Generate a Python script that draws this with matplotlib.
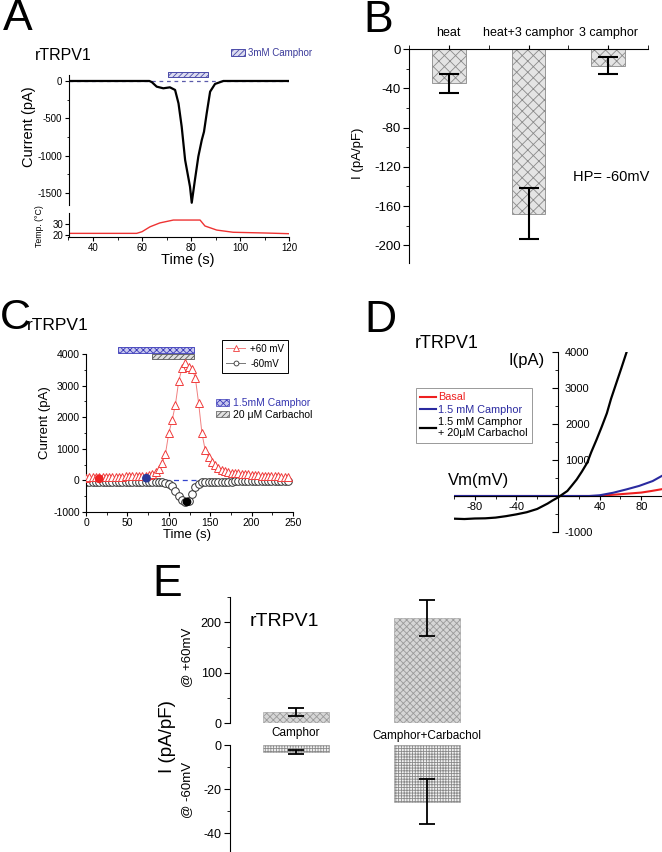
import matplotlib
matplotlib.use('Agg')
import matplotlib.pyplot as plt
from matplotlib.patches import Patch
from matplotlib.lines import Line2D
from matplotlib.ticker import MultipleLocator

plt.rcParams['font.family'] = ['Liberation Sans', 'DejaVu Sans']
plt.rcParams['axes.unicode_minus'] = False
plt.rcParams['hatch.linewidth'] = 0.6
plt.rcParams['axes.linewidth'] = 0.8

# ---- panel A: current trace and bath temperature
a_time = [30, 63, 64, 66, 68.7, 71.4, 73.5, 74.9, 76.2, 77.6, 79.6, 80.3, 81.6, 83, 84.4,
          85.3, 86.4, 87.8, 89.8, 93.2, 120]
a_current = [0, 0, -15, -76, -98, -85, -120, -300, -612, -1058, -1416, -1630, -1325, -1010, -790,
             -680, -435, -143, -40, 0, 0]
a_temp_time = [30, 57.8, 60, 63.3, 67.3, 72.8, 83.7, 85.7, 90.5, 97.2, 110.8, 120]
a_temp = [21.5, 21.5, 23, 27.5, 31, 33.6, 33.6, 28.2, 24.5, 22.5, 21.8, 21.2]
a_camphor = (70.5, 86.8)

# ---- panel B: mean current density at HP -60 mV
b_labels = ['heat', 'heat+3 camphor', '3 camphor']
b_means = [-35, -168, -17]
b_errs = [10, 26, 8.5]

# ---- panel C: time course at +60 / -60 mV
c_time = [0, 4, 8, 12, 16, 20, 24, 28, 32, 36, 40, 44, 48, 52, 56, 60, 64, 68, 72, 76,
          80, 84, 88, 92, 96, 100, 104, 108, 112, 116, 120, 124, 128, 132, 136, 140, 144, 148, 152, 156,
          160, 164, 168, 172, 176, 180, 184, 188, 192, 196, 200, 204, 208, 212, 216, 220, 224, 228, 232, 236,
          240, 244]
c_plus60 = [90, 95, 100, 100, 105, 105, 110, 110, 115, 115, 120, 120, 125, 125, 130, 135, 140, 145, 150, 165,
            200, 270, 370, 560, 850, 1500, 1900, 2400, 3150, 3550, 3700, 3590, 3540, 3250, 2450, 1500, 950, 740, 590, 480,
            400, 340, 300, 270, 250, 235, 220, 210, 200, 190, 180, 170, 160, 155, 150, 140, 135, 130, 125, 120,
            115, 110]
c_minus60 = [-60, -60, -60, -60, -60, -60, -60, -60, -60, -60, -60, -60, -60, -60, -60, -60, -60, -60, -60, -60,
             -60, -60, -60, -62, -70, -110, -190, -330, -500, -620, -680, -640, -440, -220, -110, -60, -45, -38, -35, -35,
             -35, -35, -35, -35, -35, -34, -34, -33, -33, -33, -32, -32, -32, -31, -31, -31, -30, -30, -30, -30,
             -30, -30]
c_dot_time = [16, 73, 122]
c_dot_value = [50, 70, -680]
c_dot_color = ['#ee2222', '#2a3a9a', 'black']
c_camphor = (38.5, 131)
c_carbachol = (79.6, 131)

# ---- panel D: I-V relations
d_v_black = [-100, -90, -80, -70, -60, -50, -40, -30, -20, -10, -5, 0, 4, 9, 13, 18, 23, 28, 32,
             37, 42, 47, 51, 56, 61, 66]
d_i_black = [-630, -640, -625, -620, -600, -560, -510, -450, -360, -210, -120, -40, 40, 140, 280, 460, 680, 920, 1220,
             1560, 1920, 2300, 2700, 3130, 3560, 4000]
d_v_blue = [-100, 30, 40, 53, 66, 78, 91, 100]
d_i_blue = [0, 0, 20, 90, 185, 280, 415, 560]
d_v_red = [-100, 40, 46, 60, 80, 90, 100]
d_i_red = [0, 0, 20, 50, 95, 140, 190]

# ---- panel E: current density at +60 / -60 mV
e_labels = ['Camphor', 'Camphor+Carbachol']
e_pos_means = [22, 208]
e_pos_errs = [7.5, 36]
e_neg_means = [-3.2, -25.8]
e_neg_errs = [0.8, 10.3]

W, H = 662, 852
fig = plt.figure(figsize=(W / 100, H / 100), dpi=100)


def box(l, t, r, b):
    return fig.add_axes([l / W, 1 - b / H, (r - l) / W, (b - t) / H])


def fx(x):
    return x / W


def fy(y):
    return 1 - y / H


# ================= A =================
axA = box(68.5, 75, 289, 205)
axA.plot(a_time, a_current, color='black', lw=1.6)
axA.axhline(0, color='#5a5aaa', ls='--', lw=0.9, dashes=(3, 3), zorder=0)
axA.broken_barh([(a_camphor[0], a_camphor[1] - a_camphor[0])], (50, 70), facecolor='#dcdcf0',
                edgecolor='#4a4aa8', hatch='//////', lw=0.7, clip_on=False)
axA.set_xlim(30, 120)
axA.set_ylim(-1660, 80)
for s in ['top', 'right', 'bottom']:
    axA.spines[s].set_visible(False)
axA.set_xticks([])
axA.set_yticks([0, -500, -1000, -1500])
axA.yaxis.set_minor_locator(MultipleLocator(250))
axA.tick_params(axis='y', labelsize=7, length=3, pad=1.5)
axA.tick_params(axis='y', which='minor', length=1.8)

axT = box(68.5, 213, 289, 237)
axT.plot(a_temp_time, a_temp, color='#ee3333', lw=1.0)
axT.set_xlim(30, 120)
axT.set_ylim(18.2, 40)
for s in ['top', 'right']:
    axT.spines[s].set_visible(False)
axT.set_yticks([20, 30])
axT.set_xticks([40, 60, 80, 100, 120])
axT.xaxis.set_minor_locator(MultipleLocator(10))
axT.tick_params(labelsize=7, length=3, pad=1)
axT.tick_params(which='minor', length=1.8)

fig.text(fx(18), fy(19), 'A', fontsize=32, ha='center', va='center')
fig.text(fx(35), fy(55), 'rTRPV1', fontsize=11.5, ha='left', va='center')
fig.text(fx(29), fy(127), 'Current (pA)', fontsize=10.5, rotation=90, ha='center', va='center')
fig.text(fx(40), fy(226), 'Temp. (°C)', fontsize=6.3, rotation=90, ha='center', va='center')
fig.text(fx(188), fy(260), 'Time (s)', fontsize=10.5, ha='center', va='center')
fig.legend(handles=[Patch(facecolor='#dcdcf0', edgecolor='#4a4aa8', hatch='//////', lw=0.7)],
           labels=['3mM Camphor'], loc='center left', bbox_to_anchor=(fx(231), fy(53)),
           frameon=False, labelcolor='#3a3a9a', fontsize=7, handlelength=1.4, handleheight=0.6,
           handletextpad=0.3, borderpad=0, borderaxespad=0)

# ================= B =================
axB = box(409, 49, 648, 263)
b_x = [1, 2, 3]
axB.bar(b_x, b_means, width=0.42, color='#e4e4e4', edgecolor='#8a8a8a', hatch='xxx', lw=0.6)
axB.errorbar(b_x, b_means, yerr=b_errs, fmt='none', ecolor='black', elinewidth=1.5, capsize=7, capthick=1.5)
axB.set_xlim(0.5, 3.5)
axB.set_ylim(-218, 0)
axB.xaxis.tick_top()
axB.set_xticks(b_x)
axB.set_xticklabels(b_labels, fontsize=9)
axB.xaxis.set_minor_locator(MultipleLocator(0.5))
axB.set_yticks([0, -40, -80, -120, -160, -200])
axB.yaxis.set_minor_locator(MultipleLocator(20))
axB.tick_params(axis='y', labelsize=9.5, length=4, pad=2)
axB.tick_params(axis='y', which='minor', length=2)
axB.tick_params(axis='x', length=3, pad=4)
axB.tick_params(axis='x', which='minor', length=3)
for s in ['bottom', 'right']:
    axB.spines[s].set_visible(False)
fig.text(fx(378), fy(20), 'B', fontsize=32, ha='center', va='center')
fig.text(fx(358), fy(153), 'I (pA/pF)', fontsize=9.5, rotation=90, ha='center', va='center')
fig.text(fx(573), fy(177), 'HP= -60mV', fontsize=10.5, ha='left', va='center')

# ================= C =================
axC = box(86, 354, 293, 512)
axC.axhline(0, color='#3344cc', ls='--', lw=0.9, dashes=(4, 3), zorder=1)
axC.plot(c_time, c_minus60, color='#777777', lw=0.7, marker='o', ms=5.5, mfc='white',
         mec='#333333', mew=0.7, zorder=2)
axC.plot(c_time, c_plus60, color='#f08080', lw=0.7, marker='^', ms=6, mfc='white',
         mec='#f03c3c', mew=0.7, zorder=3)
axC.scatter(c_dot_time, c_dot_value, c=c_dot_color, s=28, zorder=4)
axC.broken_barh([(c_camphor[0], c_camphor[1] - c_camphor[0])], (4030, 180), facecolor='#c8c8ee',
                edgecolor='#3a3ab8', hatch='xxxxx', lw=0.6, clip_on=False)
axC.broken_barh([(c_carbachol[0], c_carbachol[1] - c_carbachol[0])], (3830, 170), facecolor='#e0e0e0',
                edgecolor='#555555', hatch='//////', lw=0.6, clip_on=False)
axC.set_xlim(0, 250)
axC.set_ylim(-1000, 4000)
for s in ['top', 'right']:
    axC.spines[s].set_visible(False)
axC.set_xticks([0, 50, 100, 150, 200, 250])
axC.xaxis.set_minor_locator(MultipleLocator(25))
axC.set_yticks([-1000, 0, 1000, 2000, 3000, 4000])
axC.yaxis.set_minor_locator(MultipleLocator(500))
axC.tick_params(labelsize=7.5, length=3, pad=1.5)
axC.tick_params(which='minor', length=1.8)
fig.text(fx(15), fy(318), 'C', fontsize=31, ha='center', va='center')
fig.text(fx(27), fy(325), 'rTRPV1', fontsize=12.5, ha='left', va='center')
fig.text(fx(45), fy(423), 'Current (pA)', fontsize=9.5, rotation=90, ha='center', va='center')
fig.text(fx(187), fy(535), 'Time (s)', fontsize=9.5, ha='center', va='center')
legC = fig.legend(handles=[Line2D([], [], color='#f08080', lw=0.7, marker='^', ms=4, mfc='white', mec='#f03c3c', mew=0.6),
                           Line2D([], [], color='#777777', lw=0.7, marker='o', ms=3.5, mfc='white', mec='#333333', mew=0.6)],
                  labels=['+60 mV', '-60mV'], loc='upper left', bbox_to_anchor=(fx(222), fy(340)),
                  fontsize=7, fancybox=False, edgecolor='black', framealpha=1, handlelength=2,
                  borderpad=0.4, labelspacing=0.5, handletextpad=0.5, borderaxespad=0)
legC.get_frame().set_linewidth(0.7)
fig.legend(handles=[Patch(facecolor='#c8c8ee', edgecolor='#3a3ab8', hatch='xxxxx', lw=0.5),
                    Patch(facecolor='#e0e0e0', edgecolor='#555555', hatch='//////', lw=0.5)],
           labels=['1.5mM Camphor', '20 μM Carbachol'], loc='upper left', bbox_to_anchor=(fx(216), fy(398)),
           frameon=False, labelcolor=['#3535b0', 'black'], fontsize=7.5, handlelength=1.2, handleheight=0.6,
           handletextpad=0.4, labelspacing=0.15, borderpad=0, borderaxespad=0)

# ================= D =================
axD = box(454, 352, 662, 532)
axD.plot(d_v_red, d_i_red, color='#ee2020', lw=1.5, label='Basal')
axD.plot(d_v_blue, d_i_blue, color='#2a2aa0', lw=1.5, label='1.5 mM Camphor')
axD.plot(d_v_black, d_i_black, color='black', lw=1.6, label='1.5 mM Camphor\n+ 20μM Carbachol')
axD.set_xlim(-100, 100)
axD.set_ylim(-1000, 4000)
axD.spines['left'].set_visible(False)
axD.spines['top'].set_visible(False)
axD.spines['right'].set_position(('data', 0))
axD.spines['bottom'].set_position(('data', 0))
axD.yaxis.tick_right()
axD.set_yticks([-1000, 1000, 2000, 3000, 4000])
axD.yaxis.set_minor_locator(MultipleLocator(500))
axD.set_xticks([-80, -40, 40, 80])
axD.set_xticks([-100, -60, -20, 20, 60, 100], minor=True)
axD.tick_params(axis='y', which='both', direction='in', labelsize=8, pad=5)
axD.tick_params(axis='y', length=4)
axD.tick_params(axis='y', which='minor', length=2)
axD.tick_params(axis='x', labelsize=8, length=3, pad=1.5)
axD.tick_params(axis='x', which='minor', length=1.8)
fig.text(fx(380), fy(320), 'D', fontsize=32, ha='center', va='center')
fig.text(fx(415), fy(343), 'rTRPV1', fontsize=13, ha='left', va='center')
fig.text(fx(545), fy(360), 'I(pA)', fontsize=12, ha='right', va='center')
fig.text(fx(448), fy(480), 'Vm(mV)', fontsize=12, ha='left', va='center')
legD = fig.legend(handles=axD.get_lines(), labels=[l.get_label() for l in axD.get_lines()],
                  loc='upper left', bbox_to_anchor=(fx(416), fy(388)), fontsize=7.8,
                  labelcolor=['#ee2020', '#2a2aa0', 'black'], fancybox=False, edgecolor='#999999',
                  framealpha=1, handlelength=1.4, handletextpad=0.2, borderpad=0.4, labelspacing=0.2,
                  borderaxespad=0)
legD.get_frame().set_linewidth(0.7)

# ================= E =================
e_x = [0, 1]
axE1 = box(230, 596.8, 480, 723)
axE1.bar(e_x, e_pos_means, width=0.5, color='#d6d6d6', edgecolor='#9a9a9a', hatch='xxxxx', lw=0.4)
axE1.errorbar(e_x, e_pos_means, yerr=e_pos_errs, fmt='none', ecolor='black', elinewidth=1.3, capsize=6, capthick=1.3)
axE1.set_xlim(-0.5, 1.4)
axE1.set_ylim(0, 250)
axE1.set_yticks([0, 100, 200])
axE1.yaxis.set_minor_locator(MultipleLocator(50))

axE2 = box(230, 745, 480, 852)
axE2.bar(e_x, e_neg_means, width=0.5, color='#f2f2f2', edgecolor='#8a8a8a', hatch='++++++', lw=0.4)
axE2.errorbar(e_x, e_neg_means, yerr=e_neg_errs, fmt='none', ecolor='black', elinewidth=1.3, capsize=6, capthick=1.3)
axE2.set_xlim(-0.5, 1.4)
axE2.set_ylim(-48.6, 0)
axE2.set_yticks([0, -20, -40])
axE2.yaxis.set_minor_locator(MultipleLocator(10))
for ax in (axE1, axE2):
    for s in ['top', 'right', 'bottom']:
        ax.spines[s].set_visible(False)
    ax.set_xticks([])
    ax.tick_params(axis='y', labelsize=9, length=4, pad=2)
    ax.tick_params(axis='y', which='minor', length=2)

fig.text(fx(167), fy(584), 'E', fontsize=32, ha='center', va='center')
fig.text(fx(250), fy(622), 'rTRPV1', fontsize=14, ha='left', va='center')
fig.text(fx(296), fy(733), e_labels[0], fontsize=8.5, ha='center', va='center')
fig.text(fx(427), fy(736), e_labels[1], fontsize=8.5, ha='center', va='center')
fig.text(fx(168), fy(737), 'I (pA/pF)', fontsize=13.5, rotation=90, ha='center', va='center')
fig.text(fx(187), fy(657), '@ +60mV', fontsize=9.5, rotation=90, ha='center', va='center')
fig.text(fx(187), fy(790), '@ -60mV', fontsize=9.5, rotation=90, ha='center', va='center')

fig.savefig('out.png', dpi=100)
